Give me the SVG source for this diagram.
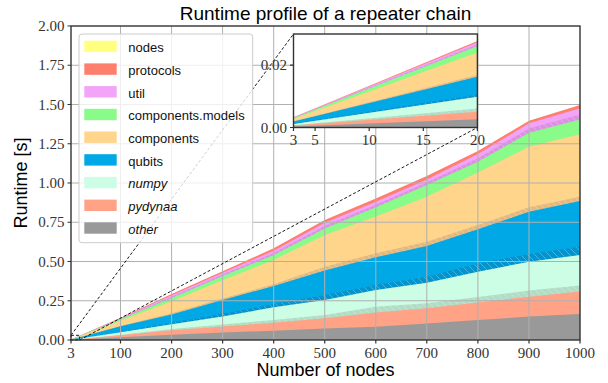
<svg xmlns="http://www.w3.org/2000/svg" width="608" height="383" viewBox="0 0 608 383">
<style>
.prot{fill:#ff7f6f}.util{fill:#f3a3f8}.dkut{fill:#dc90e4}.gren{fill:#88fb88}.orng{fill:#ffd48b}.dktn{fill:#e4b97f}.blue{fill:#00a8e6}.dkbl{fill:#0394cd}.mint{fill:#ccfde5}.dkmt{fill:#b1ddc6}.salm{fill:#ffa286}.gray{fill:#999999}.nodes{fill:#ffff80}
.hatch{fill:url(#h)}
.grid{stroke:#b0b0b0;stroke-width:1;fill:none}
.spine{stroke:#333;stroke-width:1.4;fill:none}
.tick{stroke:#333;stroke-width:1.2}
.tl{font-family:"Liberation Serif","DejaVu Serif",serif;font-size:15px;fill:#333}
.lab{font-family:"Liberation Sans","DejaVu Sans",sans-serif;font-size:18px;fill:#000}
.leg{font-family:"Liberation Sans","DejaVu Sans",sans-serif;font-size:13px;fill:#111}
.it{font-style:italic}
.conn{stroke:#000;stroke-width:0.9;stroke-dasharray:3,2;fill:none}
</style>
<defs>
<pattern id="h" patternUnits="userSpaceOnUse" width="7" height="7">
<path d="M0,0 L7,7 M-3,4 L3,10 M4,-3 L10,3" stroke="#ffffff" stroke-width="0.6" stroke-opacity="0.45"/>
</pattern>
</defs>
<rect width="608" height="383" fill="#ffffff"/>
<g id="stack">
<polygon class="prot" points="71,339.5 120.5,317.7 171.6,294 222.6,271.2 273.7,248.3 324.7,220 375.8,198.4 426.8,175.9 477.9,151 529,120.7 580,105 580,340 71,340"/>
<polygon class="util" points="71,339.5 120.5,318.2 171.6,295.3 222.6,272.8 273.7,250.7 324.7,222.7 375.8,201.7 426.8,179.4 477.9,154 529,123.3 580,108.3 580,340 71,340"/>
<polygon class="dkut" points="71,339.5 120.5,318.8 171.6,296.7 222.6,274.5 273.7,253 324.7,225.9 375.8,204.8 426.8,182.5 477.9,158.2 529,128.4 580,114.4 580,340 71,340"/>
<polygon class="hatch" points="71,339.5 120.5,318.8 171.6,296.7 222.6,274.5 273.7,253 324.7,225.9 375.8,204.8 426.8,182.5 477.9,158.2 529,128.4 580,114.4 580,340 71,340"/>
<polygon class="gren" points="71,339.5 120.5,319.3 171.6,297.9 222.6,276.1 273.7,255.1 324.7,228.4 375.8,207.3 426.8,185 477.9,161.7 529,132.8 580,119.4 580,340 71,340"/>
<polygon class="orng" points="71,339.6 120.5,320.7 171.6,301.2 222.6,280.3 273.7,259.9 324.7,235 375.8,216.6 426.8,196.7 477.9,172.6 529,146.7 580,134.3 580,340 71,340"/>
<polygon class="dktn" points="71,339.7 120.5,325.9 171.6,313.3 222.6,298.4 273.7,284.3 324.7,266.7 375.8,253.3 426.8,241.7 477.9,225.1 529,207.3 580,196.7 580,340 71,340"/>
<polygon class="hatch" points="71,339.7 120.5,325.9 171.6,313.3 222.6,298.4 273.7,284.3 324.7,266.7 375.8,253.3 426.8,241.7 477.9,225.1 529,207.3 580,196.7 580,340 71,340"/>
<polygon class="blue" points="71,339.7 120.5,326.3 171.6,314.4 222.6,300 273.7,286 324.7,270.6 375.8,257.3 426.8,246 477.9,229.3 529,211.7 580,201.1 580,340 71,340"/>
<polygon class="dkbl" points="71,339.8 120.5,331.4 171.6,322.6 222.6,313.8 273.7,304.1 324.7,294.9 375.8,285.1 426.8,276.7 477.9,263.4 529,254 580,246.7 580,340 71,340"/>
<polygon class="hatch" points="71,339.8 120.5,331.4 171.6,322.6 222.6,313.8 273.7,304.1 324.7,294.9 375.8,285.1 426.8,276.7 477.9,263.4 529,254 580,246.7 580,340 71,340"/>
<polygon class="mint" points="71,339.8 120.5,332.3 171.6,324.3 222.6,316.5 273.7,307.3 324.7,300 375.8,290.1 426.8,282.7 477.9,271.7 529,261.7 580,255.1 580,340 71,340"/>
<polygon class="dkmt" points="71,339.9 120.5,334.7 171.6,329 222.6,324.5 273.7,320.1 324.7,315 375.8,306.7 426.8,303.3 477.9,297 529,290.5 580,285.5 580,340 71,340"/>
<polygon class="hatch" points="71,339.9 120.5,334.7 171.6,329 222.6,324.5 273.7,320.1 324.7,315 375.8,306.7 426.8,303.3 477.9,297 529,290.5 580,285.5 580,340 71,340"/>
<polygon class="salm" points="71,339.9 120.5,335.3 171.6,330.3 222.6,326.5 273.7,322.7 324.7,318.3 375.8,312.4 426.8,308.3 477.9,302.6 529,296.7 580,291.6 580,340 71,340"/>
<polygon class="gray" points="71,340 120.5,337.3 171.6,334.7 222.6,332.6 273.7,330.7 324.7,328.4 375.8,326.7 426.8,323.4 477.9,320.1 529,316.6 580,313.9 580,340 71,340"/>
</g>
<g id="grid" class="grid">
<path d="M120.5,26V340M171.6,26V340M222.6,26V340M273.7,26V340M324.7,26V340M375.8,26V340M426.8,26V340M477.9,26V340M529,26V340"/>
<path d="M71,300.75H580M71,261.5H580M71,222.25H580M71,183H580M71,143.75H580M71,104.5H580M71,65.25H580"/>
</g>
<g id="connectors">
<rect class="conn" x="71" y="335.3" width="8.7" height="4.7"/>
<line class="conn" x1="71" y1="335.3" x2="293.5" y2="34"/>
<line class="conn" x1="79.7" y1="340" x2="477.4" y2="127.5"/>
</g>
<g id="axes">
<rect class="spine" x="71" y="26" width="509" height="314"/>
<path class="tick" d="M67.5,340H71M67.5,300.75H71M67.5,261.5H71M67.5,222.25H71M67.5,183H71M67.5,143.75H71M67.5,104.5H71M67.5,65.25H71M67.5,26H71"/>
<path class="tick" d="M71,340V343.5M120.5,340V343.5M171.6,340V343.5M222.6,340V343.5M273.7,340V343.5M324.7,340V343.5M375.8,340V343.5M426.8,340V343.5M477.9,340V343.5M529,340V343.5M580,340V343.5"/>
<g class="tl" text-anchor="end">
<text x="64.5" y="345">0.00</text>
<text x="64.5" y="305.75">0.25</text>
<text x="64.5" y="266.5">0.50</text>
<text x="64.5" y="227.25">0.75</text>
<text x="64.5" y="188">1.00</text>
<text x="64.5" y="148.75">1.25</text>
<text x="64.5" y="109.5">1.50</text>
<text x="64.5" y="70.25">1.75</text>
<text x="64.5" y="31">2.00</text>
</g>
<g class="tl" text-anchor="middle">
<text x="71" y="357.5">3</text>
<text x="120.5" y="357.5">100</text>
<text x="171.6" y="357.5">200</text>
<text x="222.6" y="357.5">300</text>
<text x="273.7" y="357.5">400</text>
<text x="324.7" y="357.5">500</text>
<text x="375.8" y="357.5">600</text>
<text x="426.8" y="357.5">700</text>
<text x="477.9" y="357.5">800</text>
<text x="529" y="357.5">900</text>
<text x="580" y="357.5">1000</text>
</g>
</g>
<g id="legend">
<rect x="79" y="34" width="173.7" height="208.7" rx="3" fill="#ffffff" fill-opacity="0.8" stroke="#cccccc" stroke-width="1"/>
<rect class="nodes" x="84.3" y="40.7" width="32.4" height="11.4"/>
<rect class="prot" x="84.3" y="63.4" width="32.4" height="11.4"/>
<rect class="util" x="84.3" y="86.1" width="32.4" height="11.4"/>
<rect class="gren" x="84.3" y="108.8" width="32.4" height="11.4"/>
<rect class="orng" x="84.3" y="131.5" width="32.4" height="11.4"/>
<rect class="blue" x="84.3" y="154.2" width="32.4" height="11.4"/>
<rect class="mint" x="84.3" y="176.9" width="32.4" height="11.4"/>
<rect class="salm" x="84.3" y="199.6" width="32.4" height="11.4"/>
<rect class="gray" x="84.3" y="222.3" width="32.4" height="11.4"/>
<text class="leg" x="128.3" y="52.2">nodes</text>
<text class="leg" x="128.3" y="74.9">protocols</text>
<text class="leg" x="128.3" y="97.6">util</text>
<text class="leg" x="128.3" y="120.3">components.models</text>
<text class="leg" x="128.3" y="143">components</text>
<text class="leg" x="128.3" y="165.7">qubits</text>
<text class="leg it" x="128.3" y="188.4">numpy</text>
<text class="leg it" x="128.3" y="211.1">pydynaa</text>
<text class="leg it" x="128.3" y="233.8">other</text>
</g>
<g id="inset">
<rect x="293.5" y="34" width="183.9" height="93.5" fill="#ffffff"/>
<polygon class="prot" points="293.5,117.3 477.4,41 477.4,127.5 293.5,127.5"/>
<polygon class="util" points="293.5,117.45 477.4,42.3 477.4,127.5 293.5,127.5"/>
<polygon class="dkut" points="293.5,117.7 477.4,44.5 477.4,127.5 293.5,127.5"/>
<polygon class="hatch" points="293.5,117.7 477.4,44.5 477.4,127.5 293.5,127.5"/>
<polygon class="gren" points="293.5,117.9 477.4,46 477.4,127.5 293.5,127.5"/>
<polygon class="orng" points="293.5,118.7 477.4,52.6 477.4,127.5 293.5,127.5"/>
<polygon class="dktn" points="293.5,121.3 477.4,75.1 477.4,127.5 293.5,127.5"/>
<polygon class="hatch" points="293.5,121.3 477.4,75.1 477.4,127.5 293.5,127.5"/>
<polygon class="blue" points="293.5,121.5 477.4,76.7 477.4,127.5 293.5,127.5"/>
<polygon class="dkbl" points="293.5,123.6 477.4,94.4 477.4,127.5 293.5,127.5"/>
<polygon class="hatch" points="293.5,123.6 477.4,94.4 477.4,127.5 293.5,127.5"/>
<polygon class="mint" points="293.5,123.9 477.4,96.7 477.4,127.5 293.5,127.5"/>
<polygon class="dkmt" points="293.5,125.25 477.4,108.5 477.4,127.5 293.5,127.5"/>
<polygon class="hatch" points="293.5,125.25 477.4,108.5 477.4,127.5 293.5,127.5"/>
<polygon class="salm" points="293.5,125.6 477.4,111.7 477.4,127.5 293.5,127.5"/>
<polygon class="gray" points="293.5,126.5 477.4,119.3 477.4,127.5 293.5,127.5"/>
<rect class="spine" x="293.5" y="34" width="183.9" height="93.5"/>
<path class="tick" d="M290,127.5H293.5M290,65.1H293.5M293.5,127.5V131M315.1,127.5V131M369.2,127.5V131M423.3,127.5V131M477.4,127.5V131"/>
<g class="tl" text-anchor="end">
<text x="287" y="132.5">0.00</text>
<text x="287" y="70.1">0.02</text>
</g>
<g class="tl" text-anchor="middle">
<text x="293.5" y="145">3</text>
<text x="315.1" y="145">5</text>
<text x="369.2" y="145">10</text>
<text x="423.3" y="145">15</text>
<text x="477.4" y="145">20</text>
</g>
</g>
<g id="labels">
<text class="lab" x="325.5" y="19.5" text-anchor="middle" style="font-size:19px">Runtime profile of a repeater chain</text>
<text class="lab" x="325.5" y="376" text-anchor="middle">Number of nodes</text>
<text class="lab" transform="translate(26.5,183) rotate(-90)" text-anchor="middle">Runtime [s]</text>
</g>
</svg>
